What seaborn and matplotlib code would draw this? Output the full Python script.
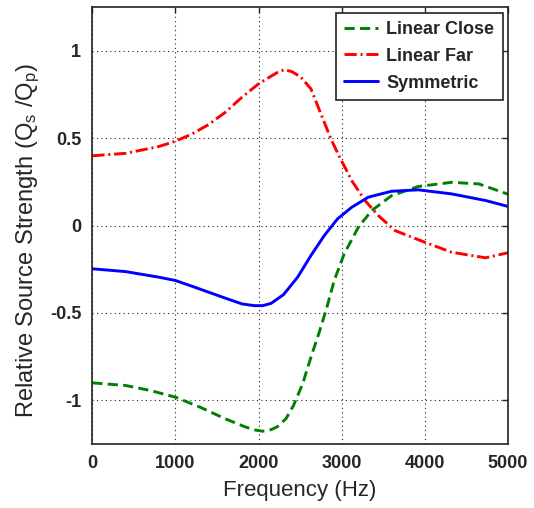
import numpy as np
import pandas as pd
import seaborn as sns
import matplotlib
matplotlib.use("Agg")
import matplotlib.pyplot as plt

# Data
close_x = [0, 400, 700, 1000, 1300, 1600, 1850, 1950, 2050, 2150, 2230, 2330, 2420, 2530, 2630, 2730, 2820, 2910, 3030, 3200, 3360, 3600, 3920, 4320, 4650, 5000]
close_y = [-0.90, -0.915, -0.944, -0.982, -1.04, -1.106, -1.154, -1.169, -1.177, -1.168, -1.15, -1.105, -1.03, -0.906, -0.753, -0.61, -0.47, -0.314, -0.161, -0.009, 0.086, 0.172, 0.224, 0.248, 0.239, 0.18]

far_x = [0, 400, 800, 1000, 1200, 1400, 1600, 1800, 2000, 2130, 2230, 2310, 2400, 2510, 2630, 2750, 2870, 2975, 3060, 3120, 3280, 3440, 3640, 4000, 4320, 4730, 5000]
far_y = [0.40, 0.414, 0.453, 0.483, 0.525, 0.579, 0.649, 0.735, 0.812, 0.85, 0.878, 0.893, 0.882, 0.85, 0.783, 0.64, 0.497, 0.392, 0.315, 0.258, 0.144, 0.058, -0.028, -0.095, -0.152, -0.184, -0.155]

sym_x = [0, 400, 800, 1000, 1200, 1400, 1600, 1800, 1950, 2050, 2150, 2300, 2470, 2630, 2790, 2950, 3120, 3320, 3600, 3920, 4320, 4730, 5000]
sym_y = [-0.247, -0.263, -0.295, -0.314, -0.347, -0.381, -0.415, -0.448, -0.458, -0.458, -0.445, -0.395, -0.295, -0.171, -0.057, 0.039, 0.105, 0.163, 0.197, 0.205, 0.182, 0.144, 0.11]

labels = ["Linear Close", "Linear Far", "Symmetric"]
x_ticks = [0, 1000, 2000, 3000, 4000, 5000]
y_ticks = [-1, -0.5, 0, 0.5, 1]
y_tick_labels = ["-1", "-0.5", "0", "0.5", "1"]

sns.set_style("white")
plt.rcParams['font.family'] = ['Liberation Sans', 'DejaVu Sans']
plt.rcParams['mathtext.fontset'] = 'custom'
plt.rcParams['mathtext.rm'] = 'Liberation Sans'
plt.rcParams['mathtext.it'] = 'Liberation Sans'

fig = plt.figure(figsize=(5.34, 5.08), dpi=100)
ax = fig.add_axes([0.1728, 0.126, 0.7785, 0.8596])

sns.lineplot(x=close_x, y=close_y, ax=ax, color="#008000", lw=2.1, label=labels[0],
             linestyle=(0, (3.5, 1.8)))
sns.lineplot(x=far_x, y=far_y, ax=ax, color="#ff0000", lw=2.1, label=labels[1],
             linestyle=(0, (4.2, 1.3, 0.7, 1.3)))
sns.lineplot(x=sym_x, y=sym_y, ax=ax, color="#0000ff", lw=2.1, label=labels[2],
             linestyle="-")

ax.set_xlim(0, 5000)
ax.set_ylim(-1.25, 1.25)
ax.set_xticks(x_ticks)
ax.set_xticklabels([str(t) for t in x_ticks])
ax.set_yticks(y_ticks)
ax.set_yticklabels(y_tick_labels)
ax.grid(True, color="#222222", linestyle=(0, (1, 3)), linewidth=0.8)
ax.tick_params(direction="in", top=True, right=True, length=4, width=1, labelsize=13, pad=8)
for lab in ax.get_xticklabels() + ax.get_yticklabels():
    lab.set_fontweight("bold")
for s in ax.spines.values():
    s.set_color("#222222")
    s.set_linewidth(1.2)

ax.set_xlabel("Frequency (Hz)", fontsize=16, labelpad=6)
ax.set_ylabel(r"Relative Source Strength (Q$_{\rm s}$ /Q$_{\rm p}$)", fontsize=17)
ax.yaxis.set_label_coords(-0.12, 0.465)

leg = ax.legend(loc="upper right", fontsize=13, frameon=True, fancybox=False,
                edgecolor="#222222", framealpha=1, borderaxespad=0.3,
                handlelength=1.9, handletextpad=0.45, labelspacing=0.55, borderpad=0.45)
leg.get_frame().set_linewidth(1.2)
for t in leg.get_texts():
    t.set_fontweight("bold")

fig.savefig("out.png", dpi=100)
